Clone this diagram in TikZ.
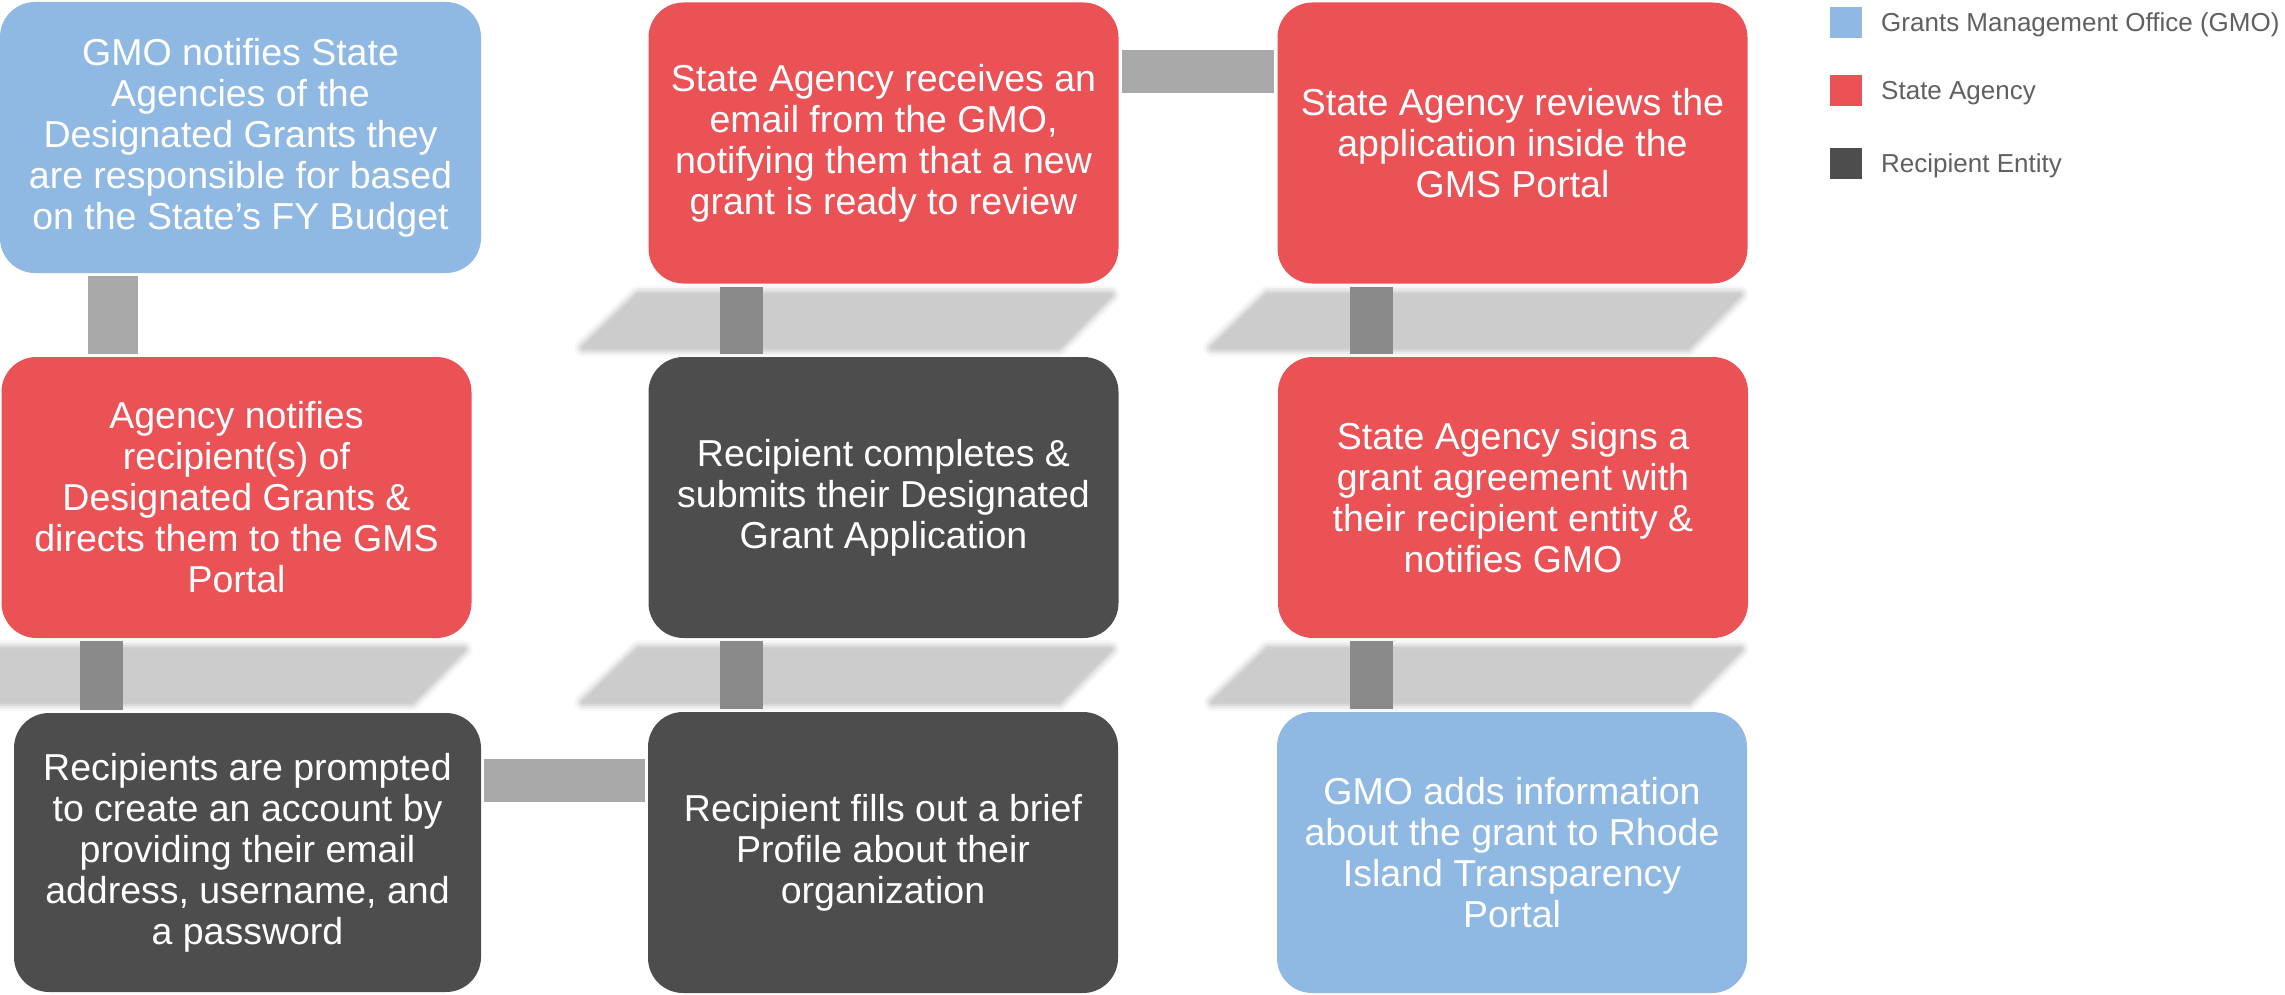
\documentclass[tikz,border=0pt]{standalone}
\usepackage{fontspec}
\setmainfont{Liberation Sans}
\usetikzlibrary{calc}
\definecolor{gmoblue}{HTML}{8FB9E3}
\definecolor{agencyred}{HTML}{EA5256}
\definecolor{recipgray}{HTML}{4D4D4D}
\definecolor{linkgray}{HTML}{A9A9A9}
\definecolor{linkdark}{HTML}{8A8A8A}
\definecolor{shadowgray}{HTML}{CCCCCC}
\definecolor{legendtext}{HTML}{606060}
\tikzset{
  stepbox/.style={rectangle, rounded corners=35pt, minimum width=470pt, minimum height=281pt,
    inner sep=0pt, align=center, text=white, font=\fontsize{37.5}{41}\selectfont},
  gmobox/.style={stepbox, fill=gmoblue},
  agencybox/.style={stepbox, fill=agencyred},
  recipbox/.style={stepbox, fill=recipgray},
  link/.style={draw=linkgray, line width=43pt, shorten <=3pt, shorten >=3pt},
  linkover/.style={link, draw=linkdark},
  legkey/.style={rectangle, minimum width=32pt, minimum height=31pt, inner sep=0pt},
  legtext/.style={anchor=base west, inner sep=0pt, text=legendtext, font=\fontsize{26}{30}\selectfont},
}
\begin{document}
\begin{tikzpicture}[x=1pt,y=-1pt]
    \useasboundingbox (0,0) rectangle (2285,995);
    \clip (0,0) rectangle (2285,995);
    % first column
    \node[gmobox, minimum width=481pt, minimum height=271pt] (gmonote) at (240.5,137.5)
      {GMO notifies State\\Agencies of the\\Designated Grants they\\are responsible for based\\on the State’s FY Budget};
    \node[agencybox] (agencynote) at (236.5,497.5)
      {Agency notifies\\recipient(s) of\\Designated Grants \&\\directs them to the GMS\\Portal};
    \node[recipbox, minimum width=467pt, minimum height=279pt] (account) at (247.5,852.5)
      {Recipients are prompted\\to create an account by\\providing their email\\address, username, and\\a password};
    % second column
    \node[agencybox] (receive) at (883.5,143)
      {State Agency receives an\\email from the GMO,\\notifying them that a new\\grant is ready to review};
    \node[recipbox] (complete) at (883.5,497.5)
      {Recipient completes \&\\submits their Designated\\Grant Application};
    \node[recipbox] (profile) at (883,852.5)
      {Recipient fills out a brief\\Profile about their\\organization};
    % third column
    \node[agencybox] (review) at (1512.5,143)
      {State Agency reviews the\\application inside the\\GMS Portal};
    \node[agencybox] (sign) at (1513,497.5)
      {State Agency signs a\\grant agreement with\\their recipient entity \&\\notifies GMO};
    \node[gmobox] (transparency) at (1512,852.5)
      {GMO adds information\\about the grant to Rhode\\Island Transparency\\Portal};
    % shadows
    \foreach \n in {agencynote,receive,complete,review,sign}{
      \foreach \w/\o in {18/0.15,13/0.3,8/0.5,4/0.8}
        \draw[shadowgray, line width=\w pt, opacity=\o, line join=round]
          ($(\n.south west)+(-10,11)$) -- ($(\n.south east)+(-8,11)$) -- ($(\n.south east)+(-60,64)$)
          -- ($(\n.south west)+(-65,64)$) -- cycle;
      \fill[shadowgray] ($(\n.south west)+(-10,11)$) -- ($(\n.south east)+(-8,11)$)
          -- ($(\n.south east)+(-60,64)$) -- ($(\n.south west)+(-65,64)$) -- cycle;
    }
    % connectors
    \draw[link, line width=50pt] ([xshift=113pt]gmonote.south west) -- ([xshift=113pt]gmonote.south west |- agencynote.north);
    \draw[linkover] ([xshift=100.5pt]agencynote.south west) -- ([xshift=100.5pt]agencynote.south west |- account.north);
    \draw[link] ([yshift=72pt]account.east) -- ([yshift=72pt]account.east -| profile.west);
    \draw[linkover] ([xshift=93.5pt]profile.north west) -- ([xshift=93.5pt]profile.north west |- complete.south);
    \draw[linkover] ([xshift=93.5pt]complete.north west) -- ([xshift=93.5pt]complete.north west |- receive.south);
    \draw[link] ([yshift=71.5pt]receive.east) -- ([yshift=71.5pt]receive.east -| review.west);
    \draw[linkover] ([xshift=94.5pt]review.south west) -- ([xshift=94.5pt]review.south west |- sign.north);
    \draw[linkover] ([xshift=94pt]sign.south west) -- ([xshift=94pt]sign.south west |- transparency.north);
    % legend
    \node[legkey, fill=gmoblue] (keygmo) at (1846,23) {};
    \node[legkey, fill=agencyred] (keyagency) at (1846,90.5) {};
    \node[legkey, fill=recipgray] (keyrecip) at (1846,163.5) {};
    \node[legtext] (txtgmo) at (1881,32) {Grants Management Office (GMO)};
    \node[legtext] (txtagency) at (1881,100) {State Agency};
    \node[legtext] (txtrecip) at (1881,173) {Recipient Entity};
\end{tikzpicture}
\end{document}
